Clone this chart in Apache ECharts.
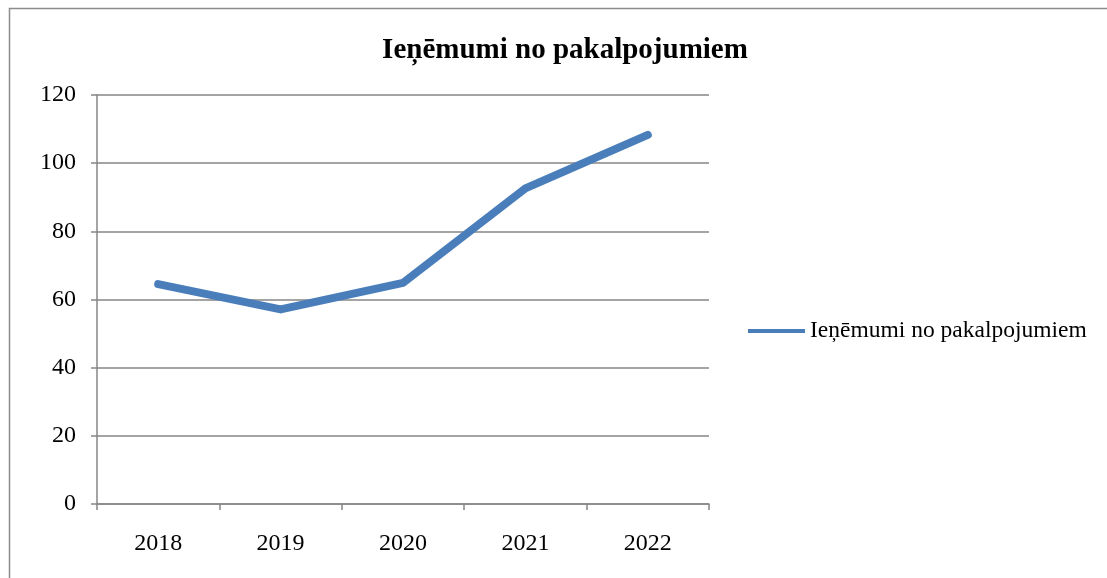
<!DOCTYPE html>
<html>
<head>
<meta charset="utf-8">
<script src="https://cdn.jsdelivr.net/npm/echarts@6/dist/echarts.min.js"></script>
<style>
  html, body { margin: 0; padding: 0; background: #fff; }
  #chart { width: 1107px; height: 578px; }
</style>
</head>
<body>
<div id="chart"></div>
<script>
// data
const years = ['2018', '2019', '2020', '2021', '2022']
const revenue = [64.5, 57.1, 64.9, 92.6, 108.3]
const seriesName = 'Ieņēmumi no pakalpojumiem'
const yTicks = [0, 20, 40, 60, 80, 100, 120]

const serif = '"Liberation Serif", "DejaVu Serif", serif'
const chart = echarts.init(document.getElementById('chart'))

chart.setOption({
  backgroundColor: '#fff',
  animation: false,
  graphic: [{
    type: 'rect',
    shape: { x: 9.5, y: 8.5, width: 1200, height: 700 },
    style: { fill: 'none', stroke: '#8c8c8c', lineWidth: 1.5 }
  }],
  title: {
    text: seriesName,
    left: 560,
    textAlign: 'center',
    top: 31,
    textStyle: {
      fontFamily: serif,
      fontWeight: 'bold',
      fontSize: 29,
      color: '#000'
    }
  },
  legend: {
    left: 743,
    top: 314,
    icon: 'rect',
    itemWidth: 57,
    itemHeight: 4,
    textStyle: {
      fontFamily: serif,
      fontSize: 23.5,
      color: '#000'
    },
    data: [seriesName]
  },
  grid: {
    left: 97,
    right: 398,
    top: 95,
    bottom: 74,
    containLabel: false
  },
  xAxis: {
    type: 'category',
    boundaryGap: true,
    data: years,
    axisLine: { lineStyle: { color: '#868686', width: 1.5 } },
    axisTick: { show: true, length: 6, lineStyle: { color: '#868686', width: 1.5 } },
    axisLabel: {
      margin: 28,
      fontFamily: serif,
      fontSize: 24,
      color: '#000'
    },
    splitLine: { show: false }
  },
  yAxis: {
    type: 'value',
    min: yTicks[0],
    max: yTicks[yTicks.length - 1],
    interval: 20,
    axisLine: { show: true, lineStyle: { color: '#868686', width: 1.5 } },
    axisTick: { show: true, length: 6, lineStyle: { color: '#868686', width: 1.5 } },
    axisLabel: {
      margin: 21,
      fontFamily: serif,
      fontSize: 24,
      color: '#000'
    },
    splitLine: { lineStyle: { color: '#868686', width: 1.5 } }
  },
  series: [{
    name: seriesName,
    type: 'line',
    data: revenue,
    showSymbol: false,
    symbol: 'none',
    lineStyle: { color: '#4a7ebb', width: 8, cap: 'round', join: 'round' },
    itemStyle: { color: '#4a7ebb' }
  }]
})
</script>
</body>
</html>
